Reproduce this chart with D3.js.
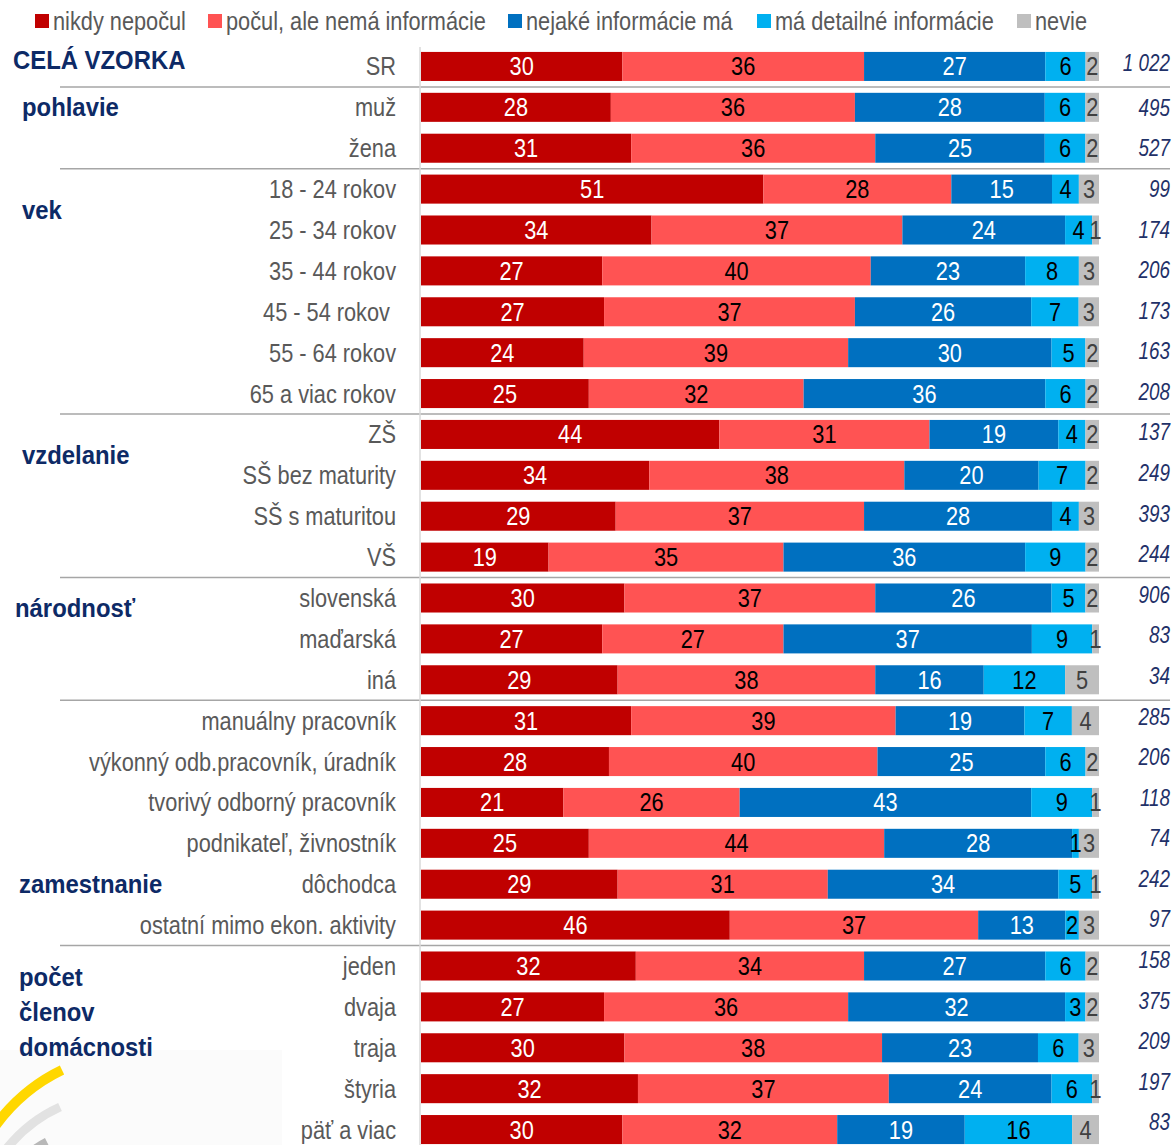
<!DOCTYPE html>
<html>
<head>
<meta charset="utf-8">
<script src="https://cdn.jsdelivr.net/npm/d3@7"></script>
<style>
  html, body { margin: 0; padding: 0; background: #fff; }
  svg { display: block; }
  text { font-family: "Liberation Sans", Arial, sans-serif; }
</style>
</head>
<body>
<svg id="chart" width="1175" height="1145"></svg>
<script>
// Answer categories (stack order, left to right)
const seriesNames = ["nikdy nepočul", "počul, ale nemá informácie", "nejaké informácie má", "má detailné informácie", "nevie"];
const seriesKeys = ["never", "heardNoInfo", "someInfo", "detailInfo", "dontKnow"];

// Respondent subgroups (rows)
const categories = [
  "SR",
  "muž", "žena",
  "18 - 24 rokov", "25 - 34 rokov", "35 - 44 rokov", "45 - 54 rokov ", "55 - 64 rokov", "65 a viac rokov",
  "ZŠ", "SŠ bez maturity", "SŠ s maturitou", "VŠ",
  "slovenská", "maďarská", "iná",
  "manuálny pracovník", "výkonný odb.pracovník, úradník", "tvorivý odborný pracovník",
  "podnikateľ, živnostník", "dôchodca", "ostatní mimo ekon. aktivity",
  "jeden", "dvaja", "traja", "štyria", "päť a viac"
];

// Percentages per answer category, one value per row
const never       = [30, 28, 31, 51, 34, 27, 27, 24, 25, 44, 34, 29, 19, 30, 27, 29, 31, 28, 21, 25, 29, 46, 32, 27, 30, 32, 30];
const heardNoInfo = [36, 36, 36, 28, 37, 40, 37, 39, 32, 31, 38, 37, 35, 37, 27, 38, 39, 40, 26, 44, 31, 37, 34, 36, 38, 37, 32];
const someInfo    = [27, 28, 25, 15, 24, 23, 26, 30, 36, 19, 20, 28, 36, 26, 37, 16, 19, 25, 43, 28, 34, 13, 27, 32, 23, 24, 19];
const detailInfo  = [ 6,  6,  6,  4,  4,  8,  7,  5,  6,  4,  7,  4,  9,  5,  9, 12,  7,  6,  9,  1,  5,  2,  6,  3,  6,  6, 16];
const dontKnow    = [ 2,  2,  2,  3,  1,  3,  3,  2,  2,  2,  2,  3,  2,  2,  1,  5,  4,  2,  1,  3,  1,  3,  2,  2,  3,  1,  4];

// Sample sizes per row
const sampleSizes = ["1 022", "495", "527", "99", "174", "206", "173", "163", "208", "137", "249", "393", "244",
                     "906", "83", "34", "285", "206", "118", "74", "242", "97", "158", "375", "209", "197", "83"];

// Group headings and how many rows each group spans
const groupNames = [["CELÁ VZORKA"], ["pohlavie"], ["vek"], ["vzdelanie"], ["národnosť"], ["zamestnanie"], ["počet", "členov", "domácnosti"]];
const groupSizes = [1, 2, 6, 4, 3, 6, 5];

const colors = ["#C00000", "#FF5353", "#0070C0", "#00B0F0", "#BFBFBF"];
const labelColors = ["#ffffff", "#000000", "#ffffff", "#000000", "#404040"];

// Heading placement: x position and vertical anchor in row units (relative to the first row of the group)
const headingLayout = [
  { x: 13, row: -0.17, lineStep: 0 },
  { x: 22, row: 0.0, lineStep: 0 },
  { x: 22, row: 0.5, lineStep: 0 },
  { x: 22, row: 0.5, lineStep: 0 },
  { x: 15, row: 0.25, lineStep: 0 },
  { x: 19, row: 4.0, lineStep: 0 },
  { x: 19, row: 0.27, lineStep: 0.85 }
];

// Horizontal compression gives the condensed lettering
const NARROW = 0.87;

function placeText(sel, xFn, yFn, sx) {
  return sel.attr("transform", (d, i) => `translate(${xFn(d, i)},${yFn(d, i)}) scale(${sx},1)`);
}

const table = categories.map((c, i) => ({
  cat: c, never: never[i], heardNoInfo: heardNoInfo[i], someInfo: someInfo[i],
  detailInfo: detailInfo[i], dontKnow: dontKnow[i], n: sampleSizes[i]
}));

const svg = d3.select("#chart");

const y = d3.scaleBand()
  .domain(categories)
  .range([46, 1150])
  .paddingInner(0.29)
  .paddingOuter(0.145);

const x = d3.scaleLinear().domain([0, 1]).range([421, 1099]);

const stack = d3.stack().keys(seriesKeys).offset(d3.stackOffsetExpand);
const layers = stack(table);

// Group separators
let start = 0;
const separatorYs = [];
groupSizes.forEach((s, gi) => {
  start += s;
  if (gi < groupSizes.length - 1) {
    separatorYs.push(y(categories[start - 1]) + y.bandwidth() + (y.step() - y.bandwidth()) / 2);
  }
});

// Logo watermark in the lower-left corner
const logo = svg.append("g");
logo.append("rect").attr("x", 0).attr("y", 1050).attr("width", 282).attr("height", 95).attr("fill", "#fbfbfb");
logo.append("path").attr("d", "M -20 1150 Q 10 1095 62 1070")
  .attr("fill", "none").attr("stroke", "#FFD700").attr("stroke-width", 10);
logo.append("path").attr("d", "M -5 1165 Q 20 1125 60 1107")
  .attr("fill", "none").attr("stroke", "#E2E2E2").attr("stroke-width", 9);
logo.append("path").attr("d", "M 22 1160 Q 35 1148 47 1142")
  .attr("fill", "none").attr("stroke", "#B8B8B8").attr("stroke-width", 9);

svg.append("g").selectAll("line").data(separatorYs).join("line")
  .attr("x1", 60).attr("x2", 1170)
  .attr("y1", d => d).attr("y2", d => d)
  .attr("stroke", "#A6A6A6").attr("stroke-width", 1.5);

// Vertical baseline of the bars
svg.append("line")
  .attr("x1", 420).attr("x2", 420)
  .attr("y1", 47).attr("y2", 1145)
  .attr("stroke", "#D9D9D9").attr("stroke-width", 1.5);

// Bars
const layerG = svg.append("g").selectAll("g").data(layers).join("g")
  .attr("fill", (d, i) => colors[i]);

layerG.selectAll("rect").data(d => d).join("rect")
  .attr("x", d => x(d[0]))
  .attr("width", d => x(d[1]) - x(d[0]))
  .attr("y", d => y(d.data.cat))
  .attr("height", y.bandwidth());

// Value labels inside segments
const labelG = svg.append("g");
layers.forEach((layer, li) => {
  placeText(
    labelG.append("g").selectAll("text").data(layer).join("text"),
    d => (x(d[0]) + x(d[1])) / 2,
    d => y(d.data.cat) + y.bandwidth() / 2,
    NARROW)
    .attr("dy", "0.36em")
    .attr("text-anchor", "middle")
    .attr("font-size", 25)
    .attr("fill", labelColors[li])
    .text(d => d.data[layer.key]);
});

// Category labels
placeText(
  svg.append("g").selectAll("text").data(categories).join("text"),
  () => 396,
  d => y(d) + y.bandwidth() / 2,
  NARROW)
  .attr("dy", "0.36em")
  .attr("text-anchor", "end")
  .attr("font-size", 25)
  .attr("fill", "#595959")
  .style("white-space", "pre")
  .text(d => d);

// Sample sizes
const yN = d3.scalePoint().domain(categories).range([67, 1122]);
placeText(
  svg.append("g").selectAll("text").data(table).join("text"),
  () => 1170,
  (d, i) => yN(d.cat) - (i === 0 ? 4 : 0),
  0.82)
  .attr("dy", "0.36em")
  .attr("text-anchor", "end")
  .attr("font-size", 23)
  .attr("font-style", "italic")
  .attr("fill", "#1F3168")
  .text(d => d.n);

// Group headings
let rowStart = 0;
groupNames.forEach((lines, gi) => {
  const lay = headingLayout[gi];
  const first = categories[rowStart];
  const cy = y(first) + y.bandwidth() / 2 + lay.row * y.step();
  const t = svg.append("text")
    .attr("transform", `translate(${lay.x},${cy}) scale(0.955,1)`)
    .attr("font-weight", "bold")
    .attr("font-size", 25)
    .attr("fill", "#0D2A66");
  lines.forEach((ln, k) => {
    t.append("tspan").attr("x", 0).attr("y", k * lay.lineStep * y.step()).attr("dy", "0.36em").text(ln);
  });
  rowStart += groupSizes[gi];
});

// Legend
const legendX = [35, 208, 508, 757, 1017];
const legend = svg.append("g");
seriesNames.forEach((name, i) => {
  legend.append("rect").attr("x", legendX[i]).attr("y", 14).attr("width", 14).attr("height", 14).attr("fill", colors[i]);
  legend.append("text")
    .attr("transform", `translate(${legendX[i] + 18},21) scale(${NARROW},1)`)
    .attr("dy", "0.36em")
    .attr("font-size", 25).attr("fill", "#595959").text(name);
});
</script>
</body>
</html>
